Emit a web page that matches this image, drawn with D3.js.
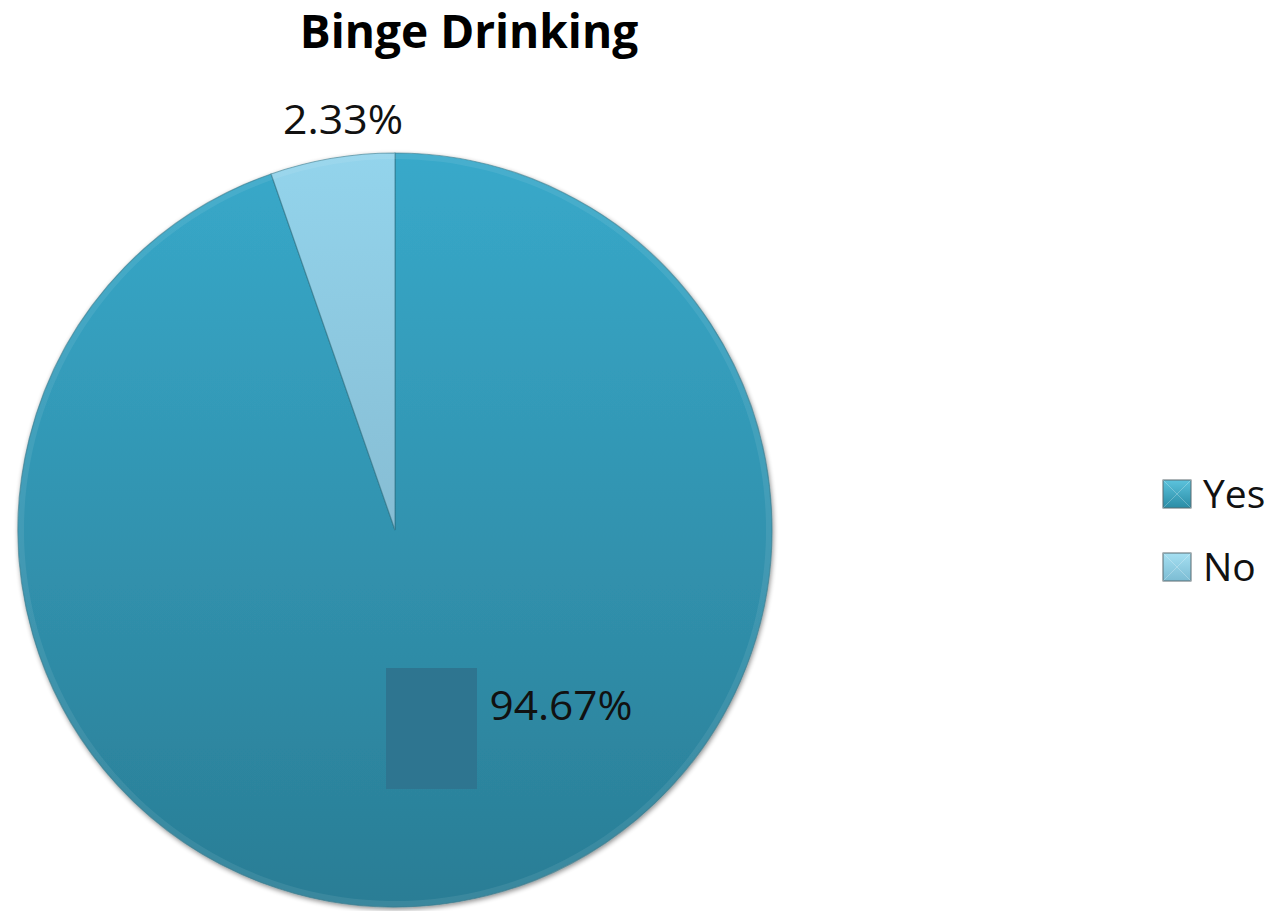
<!DOCTYPE html>
<html><head><meta charset="utf-8">
<script src="https://cdn.jsdelivr.net/npm/d3@7/dist/d3.min.js"></script>
<style>body{margin:0;background:#fff;}svg{display:block;}</style>
</head><body>
<script>
const categories = ["Yes", "No"];
const values = [94.67, 5.33];
const labelTexts = ["94.67%", "2.33%"];
const title = "Binge Drinking";

const W = 1286, H = 911;
const cx = 395, cy = 530, R = 377;
const svg = d3.select("body").append("svg").attr("width", W).attr("height", H);
const defs = svg.append("defs");

const grads = [
  {id: "gYes", top: "#38a9ca", bottom: "#2a7d95"},
  {id: "gNo", top: "#93d4ec", bottom: "#7aa6bb"}
];
grads.forEach(g => {
  const lg = defs.append("linearGradient").attr("id", g.id)
    .attr("gradientUnits", "userSpaceOnUse")
    .attr("x1", 0).attr("y1", -R).attr("x2", 0).attr("y2", R);
  lg.append("stop").attr("offset", "0%").attr("stop-color", g.top);
  lg.append("stop").attr("offset", "100%").attr("stop-color", g.bottom);
});
const lgY = defs.append("linearGradient").attr("id", "legYes").attr("x1",0).attr("y1",0).attr("x2",0).attr("y2",1);
lgY.append("stop").attr("offset","0%").attr("stop-color","#5cc3dd");
lgY.append("stop").attr("offset","100%").attr("stop-color","#2a8ca5");
const lgN = defs.append("linearGradient").attr("id", "legNo").attr("x1",0).attr("y1",0).attr("x2",0).attr("y2",1);
lgN.append("stop").attr("offset","0%").attr("stop-color","#a6e0f2");
lgN.append("stop").attr("offset","100%").attr("stop-color","#7cbcd3");

const shadow = defs.append("filter").attr("id", "sh").attr("x", "-10%").attr("y", "-10%").attr("width", "120%").attr("height", "120%");
shadow.append("feGaussianBlur").attr("in", "SourceAlpha").attr("stdDeviation", 2.5).attr("result", "b");
shadow.append("feOffset").attr("in", "b").attr("dx", 1).attr("dy", 2).attr("result", "o");
shadow.append("feComponentTransfer").attr("in","o").attr("result","o2")
  .append("feFuncA").attr("type","linear").attr("slope",0.45);
const fm = shadow.append("feMerge");
fm.append("feMergeNode").attr("in", "o2");
fm.append("feMergeNode").attr("in", "SourceGraphic");

const color = d3.scaleOrdinal().domain(categories).range(["url(#gYes)", "url(#gNo)"]);
const legColor = d3.scaleOrdinal().domain(categories).range(["url(#legYes)", "url(#legNo)"]);

const pie = d3.pie().sort(null).value(d => d.v);
const data = categories.map((c, i) => ({c, v: values[i], t: labelTexts[i]}));
const arcs = pie(data);
const arc = d3.arc().innerRadius(0).outerRadius(R);

const g = svg.append("g").attr("transform", `translate(${cx},${cy})`);
g.append("g").attr("filter", "url(#sh)")
  .selectAll("path").data(arcs).join("path")
  .attr("d", arc)
  .attr("fill", d => color(d.data.c))
  .attr("stroke", "#2c6f82").attr("stroke-opacity", 0.55).attr("stroke-width", 1.2);

const bevel = d3.arc().innerRadius(R - 6).outerRadius(R);
g.selectAll("path.bev").data(arcs).join("path").attr("class","bev")
  .attr("d", bevel).attr("fill", "#ffffff").attr("opacity", 0.08);

g.append("rect").attr("x", 386 - cx).attr("y", 668 - cy).attr("width", 91).attr("height", 121)
  .attr("fill", "#2e7590");

const font = "'Open Sans', 'Liberation Sans', sans-serif";
const labelPos = {Yes: [561, 720], No: [343, 134]};
svg.selectAll("text.lab").data(arcs).join("text").attr("class", "lab")
  .attr("x", d => labelPos[d.data.c][0]).attr("y", d => labelPos[d.data.c][1])
  .attr("text-anchor", "middle").attr("font-family", font).attr("font-size", 41)
  .attr("textLength", d => d.data.c === "Yes" ? 143 : 120).attr("lengthAdjust", "spacingAndGlyphs")
  .attr("fill", "#111").text(d => d.data.t);

svg.append("text").attr("x", 469).attr("y", 48).attr("text-anchor", "middle")
  .attr("font-family", font).attr("font-weight", "bold").attr("font-size", 46)
  .attr("fill", "#000").text(title);

const leg = svg.append("g");
const lgItems = leg.selectAll("g").data(categories).join("g")
  .attr("transform", (d, i) => `translate(1163, ${480 + i * 73})`);
lgItems.append("rect").attr("width", 28).attr("height", 28)
  .attr("fill", d => legColor(d)).attr("stroke", "#5a6a70").attr("stroke-width", 1);
lgItems.append("path").attr("d", "M0,0L28,28M28,0L0,28").attr("stroke", "#ffffff").attr("stroke-opacity", 0.25).attr("stroke-width", 1);
lgItems.append("text").attr("x", 40).attr("y", 28).attr("font-family", font)
  .attr("font-size", 39).attr("fill", "#111").text(d => d);
</script>
</body></html>
